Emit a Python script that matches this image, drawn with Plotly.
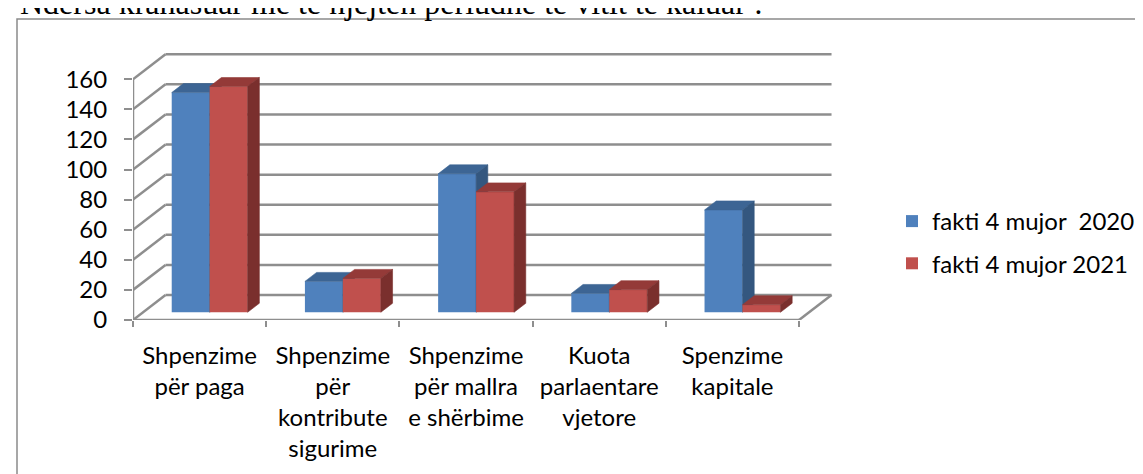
import plotly.graph_objects as go

# ---------------- data ----------------
categories = [
    "Shpenzime<br>për paga",
    "Shpenzime<br>për<br>kontribute<br>sigurime",
    "Shpenzime<br>për mallra<br>e shërbime",
    "Kuota<br>parlaentare<br>vjetore",
    "Spenzime<br>kapitale",
]
series_names = ["fakti 4 mujor\u00a0 2020", "fakti 4 mujor 2021"]
values_2020 = [146, 20.5, 92, 12.5, 68]
values_2021 = [150, 22.5, 80, 15, 5]
y_ticks = [0, 20, 40, 60, 80, 100, 120, 140, 160]
title_text = "Ndërsa krahasuar me të njëjtën periudhë të vitit të kaluar :"

# ---------------- style / geometry ----------------
DX = 0.244      # depth offset of the floor (category units)
DY = 16.6       # depth offset of the floor (value units)
F0, F1 = 0.31, 0.67   # bar front / back depth fractions
BW = 0.285      # bar width (category units)
FONT = "Lato, Open Sans, sans-serif"
GRID = "#8E8E8E"
colors = {
    "front": ["#4F81BD", "#C0504D"],
    "top": ["#3D6594", "#943A38"],
    "side": ["#34577F", "#7A2F2D"],
}

n = len(categories)
left, right = -0.5, n - 0.5
x_range = [left, 4.755]
y_range = [0, 178.1]

fig = go.Figure()


def faces(vals, offset):
    base = F0 * DY
    ddx = (F1 - F0) * DX
    ddy = (F1 - F0) * DY
    tx, ty, sx, sy = [], [], [], []
    for i, v in enumerate(vals):
        x0 = i + F0 * DX + offset
        x1 = x0 + BW
        t = base + v
        tx += [x0, x1, x1 + ddx, x0 + ddx, x0, None]
        ty += [t, t, t + ddy, t + ddy, t, None]
        sx += [x1, x1, x1 + ddx, x1 + ddx, x1, None]
        sy += [base, t, t + ddy, base + ddy, base, None]
    return tx, ty, sx, sy


for k, (vals, name, offs, xa, ya) in enumerate([
    (values_2020, series_names[0], -BW, "x", "y"),
    (values_2021, series_names[1], 0.0, "x2", "y2"),
]):
    xs = [i + F0 * DX for i in range(n)]
    fig.add_trace(go.Bar(
        x=xs, y=vals, base=[F0 * DY] * n, width=[BW] * n, offset=[offs] * n,
        marker=dict(color=colors["front"][k], line=dict(width=0)),
        name=name, xaxis=xa, yaxis=ya, legendgroup=f"g{k}", hoverinfo="y",
    ))
    tx, ty, sx, sy = faces(vals, offs)
    fig.add_trace(go.Scatter(
        x=tx, y=ty, mode="lines", fill="toself", fillcolor=colors["top"][k],
        line=dict(color=colors["top"][k], width=0.6), showlegend=False,
        xaxis=xa, yaxis=ya, hoverinfo="skip",
    ))
    fig.add_trace(go.Scatter(
        x=sx, y=sy, mode="lines", fill="toself", fillcolor=colors["side"][k],
        line=dict(color=colors["side"][k], width=0.6), showlegend=False,
        xaxis=xa, yaxis=ya, hoverinfo="skip",
    ))

# walls / floor
shapes = []
for t in y_ticks:
    shapes.append(dict(type="line", xref="x", yref="y", x0=left + DX, y0=t + DY,
                       x1=right + DX, y1=t + DY, line=dict(color=GRID, width=2.5), layer="below"))
    shapes.append(dict(type="line", xref="x", yref="y", x0=left, y0=t,
                       x1=left + DX, y1=t + DY, line=dict(color=GRID, width=2.5), layer="below"))
shapes.append(dict(type="line", xref="x", yref="y", x0=left, y0=0, x1=left, y1=y_ticks[-1],
                   line=dict(color=GRID, width=2.5), layer="below"))
shapes.append(dict(type="line", xref="x", yref="y", x0=left, y0=0, x1=right, y1=0,
                   line=dict(color=GRID, width=2.5), layer="below"))
shapes.append(dict(type="line", xref="x", yref="y", x0=right, y0=0, x1=right + DX, y1=DY,
                   line=dict(color=GRID, width=2.5), layer="below"))
# outer frame of the document figure
shapes.append(dict(type="rect", xref="paper", yref="paper",
                   x0=(9 - 125) / 700, y0=-1.0, x1=2.0, y1=(312 - 11) / 268,
                   line=dict(color="#8A8A8A", width=1.5), fillcolor="rgba(0,0,0,0)", layer="below"))

fig.update_layout(
    width=1143, height=474,
    margin=dict(l=125, r=318, t=44, b=162, autoexpand=False),
    paper_bgcolor="white", plot_bgcolor="white",
    barmode="overlay",
    shapes=shapes,
    font=dict(family=FONT, size=24, color="black"),
    showlegend=True,
    legend=dict(x=(884 - 125) / 700, xanchor="left", y=(312 - 191) / 268, yanchor="top",
                font=dict(family=FONT, size=24, color="black"), tracegroupgap=8,
                bgcolor="rgba(0,0,0,0)"),
    xaxis=dict(range=x_range, tickmode="array", tickvals=list(range(n)), ticktext=categories,
               ticks="outside", ticklen=14, tickcolor="rgba(0,0,0,0)", showgrid=False,
               zeroline=False, showline=False, automargin=False,
               tickfont=dict(family=FONT, size=24, color="black")),
    xaxis2=dict(range=x_range, overlaying="x", side="bottom", tickmode="array",
                tickvals=[i - 0.5 for i in range(n + 1)], ticks="outside", ticklen=6,
                tickwidth=2, tickcolor=GRID, showticklabels=False, showgrid=False,
                zeroline=False, showline=False, automargin=False),
    yaxis=dict(range=y_range, tickmode="array", tickvals=y_ticks, ticks="outside", ticklen=8,
               tickwidth=2, tickcolor=GRID, showgrid=False, zeroline=False, showline=False,
               automargin=False, ticklabelstandoff=12,
               tickfont=dict(family=FONT, size=24, color="black")),
    yaxis2=dict(range=y_range, overlaying="y", showticklabels=False, ticks="", showgrid=False,
                zeroline=False, showline=False, automargin=False),
    annotations=[dict(text=title_text, xref="paper", yref="paper",
                      x=(10 - 125) / 700, xanchor="left", y=(312 + 5) / 268, yanchor="middle",
                      showarrow=False, font=dict(family="Liberation Serif, serif", size=32, color="black"))],
)

fig.write_html("out.html")
